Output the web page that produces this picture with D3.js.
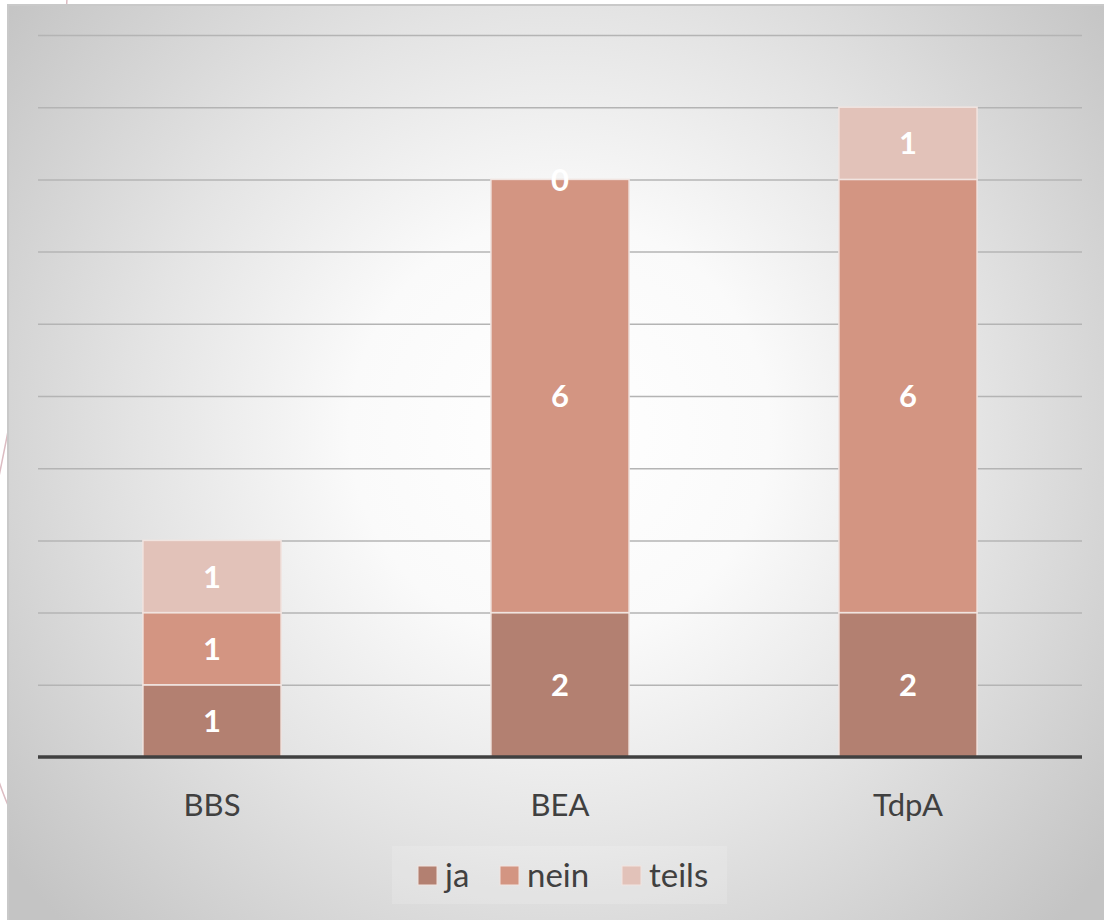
<!DOCTYPE html>
<html><head><meta charset="utf-8">
<script src="https://cdn.jsdelivr.net/npm/d3@7"></script>
<style>html,body{margin:0;padding:0;background:#fff;}svg{display:block;}</style>
</head><body>
<svg id="c" width="1104" height="920"></svg>
<script>
const categories = ["BBS", "BEA", "TdpA"];
const seriesNames = ["ja", "nein", "teils"];
const ja = [1, 2, 2];
const nein = [1, 6, 6];
const teils = [1, 0, 1];
const yTicks = [0,1,2,3,4,5,6,7,8,9,10];
const colors = ["#b38071", "#d39582", "#e2c2b9"];

const svg = d3.select("#c");
const W = 1104, H = 920;
const defs = svg.append("defs");
const rg = defs.append("radialGradient").attr("id","bg")
  .attr("gradientUnits","userSpaceOnUse").attr("cx",560).attr("cy",430).attr("r",700);
rg.append("stop").attr("offset","0").attr("stop-color","#ffffff");
rg.append("stop").attr("offset","0.3").attr("stop-color","#fafafa");
rg.append("stop").attr("offset","0.6").attr("stop-color","#e4e4e4");
rg.append("stop").attr("offset","1").attr("stop-color","#c4c4c4");

// decorative slide curves behind
svg.append("path").attr("d","M67,-2 C60,150 30,330 -10,520").attr("fill","none").attr("stroke","#dcbcc2").attr("stroke-width",1.5);
svg.append("path").attr("d","M-5,770 C5,800 10,815 30,840").attr("fill","none").attr("stroke","#dcbcc2").attr("stroke-width",1.5);

// chart area
svg.append("rect").attr("x",8).attr("y",5).attr("width",W).attr("height",H).attr("fill","url(#bg)")
  .attr("stroke","#c9c9c9").attr("stroke-width",2);

const m = {l:38, r:1082, t:35, b:757};
const x = d3.scaleBand().domain(categories).range([m.l, m.r]).paddingInner(0.603).paddingOuter(0.3015);
const y = d3.scaleLinear().domain([0,10]).range([m.b, m.t]);

// gridlines
const grid = svg.append("g").attr("transform",`translate(${m.l},0)`)
  .call(d3.axisLeft(y).tickValues(yTicks.slice(1)).tickSize(-(m.r-m.l)).tickFormat(""));
grid.select(".domain").remove();
grid.selectAll(".tick line").attr("stroke","#b4b4b4").attr("stroke-width",1.5);

const data = categories.map((c,i)=>({cat:c, ja:ja[i], nein:nein[i], teils:teils[i]}));
const stack = d3.stack().keys(seriesNames)(data);

const gBars = svg.append("g");
stack.forEach((s,si)=>{
  gBars.selectAll(null).data(s).enter().append("rect")
    .attr("x", d=>x(d.data.cat)).attr("width", x.bandwidth())
    .attr("y", d=>y(d[1])).attr("height", d=>y(d[0])-y(d[1]))
    .attr("fill", colors[si]).attr("stroke","#f1e4e0").attr("stroke-width",1.5);
});
stack.forEach((s,si)=>{
  gBars.selectAll(null).data(s).enter().append("text")
    .attr("x", d=>x(d.data.cat)+x.bandwidth()/2)
    .attr("y", d=>(y(d[0])+y(d[1]))/2)
    .attr("dy","0.36em").attr("text-anchor","middle")
    .attr("font-family","Lato, 'Open Sans', sans-serif").attr("font-weight","bold").attr("font-size",31)
    .attr("fill","#ffffff").text(d=>d[1]-d[0]);
});

// x axis
const xa = svg.append("g").attr("transform",`translate(0,${m.b})`).call(d3.axisBottom(x).tickSize(0).tickPadding(0));
xa.select(".domain").remove();
svg.append("line").attr("x1",m.l).attr("x2",m.r).attr("y1",m.b).attr("y2",m.b).attr("stroke","#404040").attr("stroke-width",3.5);
xa.selectAll(".tick text").attr("y",59).attr("dy","0").attr("font-family","Lato, 'Open Sans', sans-serif")
  .attr("font-size",31).attr("fill","#404040");

// legend
svg.append("rect").attr("x",392).attr("y",846).attr("width",335).attr("height",58).attr("fill","#ffffff").attr("opacity",0.15);
const legX = [418, 500, 622];
const lg = svg.append("g");
seriesNames.forEach((n,i)=>{
  lg.append("rect").attr("x",legX[i]).attr("y",866).attr("width",19).attr("height",19).attr("fill",colors[i])
    .attr("stroke","#f1e4e0").attr("stroke-width",1);
  lg.append("text").attr("x",legX[i]+27).attr("y",887).attr("font-family","Lato, 'Open Sans', sans-serif")
    .attr("font-size",33).attr("fill","#404040").text(n);
});
</script>
</body></html>
